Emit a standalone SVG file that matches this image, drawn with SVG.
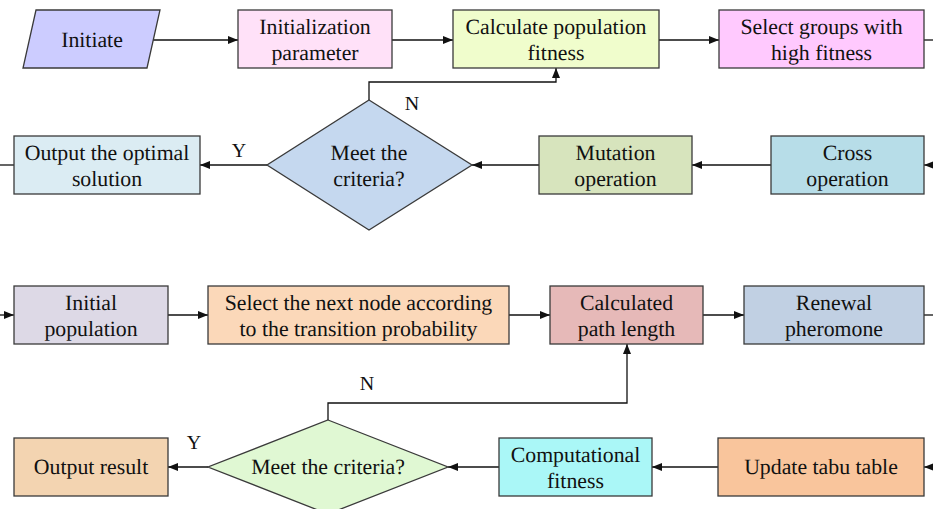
<svg xmlns="http://www.w3.org/2000/svg" width="933" height="509" viewBox="0 0 933 509" font-family="Liberation Serif, serif">
<style>
.n{stroke:#3a3a3a;stroke-width:1.3}
.lbl{font-family:"Liberation Serif",serif;font-size:21.8px;fill:#111;text-anchor:middle;text-rendering:geometricPrecision}
.yn{font-family:"Liberation Serif",serif;font-size:20px;fill:#111;text-anchor:middle;text-rendering:geometricPrecision}
.c{fill:none;stroke:#111;stroke-width:1.3}
</style>
<defs>
<marker id="a" viewBox="0 0 10 8" refX="10" refY="4" markerWidth="10" markerHeight="8" markerUnits="userSpaceOnUse" orient="auto">
<path d="M0,0L10,4L0,8Z" fill="#111"/>
</marker>
</defs>
<rect width="933" height="509" fill="#fff"/>
<g id="connectors">
<path class="c" d="M153,40H238" marker-end="url(#a)"/>
<path class="c" d="M392,40H453" marker-end="url(#a)"/>
<path class="c" d="M659,40H719" marker-end="url(#a)"/>
<path class="c" d="M924,40H933"/>
<path class="c" d="M933,165H924" marker-end="url(#a)"/>
<path class="c" d="M771,165H692" marker-end="url(#a)"/>
<path class="c" d="M539,165H472" marker-end="url(#a)"/>
<path class="c" d="M267,165H200" marker-end="url(#a)"/>
<path class="c" d="M14,165H0"/>
<path class="c" d="M369,100V82H556V68" marker-end="url(#a)"/>
<path class="c" d="M0,315H14" marker-end="url(#a)"/>
<path class="c" d="M168,315H208" marker-end="url(#a)"/>
<path class="c" d="M509,315H550" marker-end="url(#a)"/>
<path class="c" d="M703,315H744" marker-end="url(#a)"/>
<path class="c" d="M924,315H933"/>
<path class="c" d="M933,467H924" marker-end="url(#a)"/>
<path class="c" d="M718,467H652" marker-end="url(#a)"/>
<path class="c" d="M499,467H448" marker-end="url(#a)"/>
<path class="c" d="M208,467H168" marker-end="url(#a)"/>
<path class="c" d="M328,420V403H627V344" marker-end="url(#a)"/>
<text class="yn" x="412" y="110">N</text>
<text class="yn" x="239" y="157">Y</text>
<text class="yn" x="367" y="390">N</text>
<text class="yn" x="194" y="449">Y</text>
</g>
<g id="initiate">
<polygon class="n" points="36,10 160,10 147,68 23,68" fill="#ccccff"/>
<text class="lbl" x="92" y="47">Initiate</text>
</g>
<g id="init-param">
<rect class="n" x="238" y="10" width="154" height="58" fill="#ffe1f8"/>
<text class="lbl" x="315" y="34">Initialization</text>
<text class="lbl" x="315" y="60">parameter</text>
</g>
<g id="calc-fitness">
<rect class="n" x="453" y="10" width="206" height="58" fill="#f0fdcc"/>
<text class="lbl" x="556" y="34">Calculate population</text>
<text class="lbl" x="556" y="60">fitness</text>
</g>
<g id="select-groups">
<rect class="n" x="719" y="10" width="205" height="58" fill="#ffc9fe"/>
<text class="lbl" x="821.5" y="34">Select groups with</text>
<text class="lbl" x="821.5" y="60">high fitness</text>
</g>
<g id="output-optimal">
<rect class="n" x="14" y="136" width="186" height="58" fill="#dbecf3"/>
<text class="lbl" x="107" y="160">Output the optimal</text>
<text class="lbl" x="107" y="186">solution</text>
</g>
<g id="decision1">
<polygon class="n" points="369,100 472,165 369,230 267,165" fill="#c5d8ef"/>
<text class="lbl" x="369" y="160">Meet the</text>
<text class="lbl" x="369" y="186">criteria?</text>
</g>
<g id="mutation">
<rect class="n" x="539" y="136" width="153" height="58" fill="#d7e4bd"/>
<text class="lbl" x="615.5" y="160">Mutation</text>
<text class="lbl" x="615.5" y="186">operation</text>
</g>
<g id="cross">
<rect class="n" x="771" y="136" width="153" height="58" fill="#b7dde8"/>
<text class="lbl" x="847.5" y="160">Cross</text>
<text class="lbl" x="847.5" y="186">operation</text>
</g>
<g id="initial-population">
<rect class="n" x="14" y="286" width="154" height="58" fill="#ddd9e6"/>
<text class="lbl" x="91" y="310">Initial</text>
<text class="lbl" x="91" y="336">population</text>
</g>
<g id="select-next">
<rect class="n" x="208" y="286" width="301" height="58" fill="#fbd8b9"/>
<text class="lbl" x="358.5" y="310">Select the next node according</text>
<text class="lbl" x="358.5" y="336">to the transition probability</text>
</g>
<g id="path-length">
<rect class="n" x="550" y="286" width="153" height="58" fill="#e6b9b8"/>
<text class="lbl" x="626.5" y="310">Calculated</text>
<text class="lbl" x="626.5" y="336">path length</text>
</g>
<g id="renewal">
<rect class="n" x="744" y="286" width="180" height="58" fill="#c1d0e3"/>
<text class="lbl" x="834" y="310">Renewal</text>
<text class="lbl" x="834" y="336">pheromone</text>
</g>
<g id="output-result">
<rect class="n" x="14" y="438" width="154" height="58" fill="#f3d4b1"/>
<text class="lbl" x="91" y="474">Output result</text>
</g>
<g id="decision2">
<polygon class="n" points="328,420 448,467 328,514 208,467" fill="#e0f8d3"/>
<text class="lbl" x="328" y="474">Meet the criteria?</text>
</g>
<g id="computational-fitness">
<rect class="n" x="499" y="438" width="153" height="58" fill="#aaf7f7"/>
<text class="lbl" x="575.5" y="462">Computational</text>
<text class="lbl" x="575.5" y="488">fitness</text>
</g>
<g id="update-tabu">
<rect class="n" x="718" y="438" width="206" height="58" fill="#f9c59c"/>
<text class="lbl" x="821" y="474">Update tabu table</text>
</g>
</svg>
